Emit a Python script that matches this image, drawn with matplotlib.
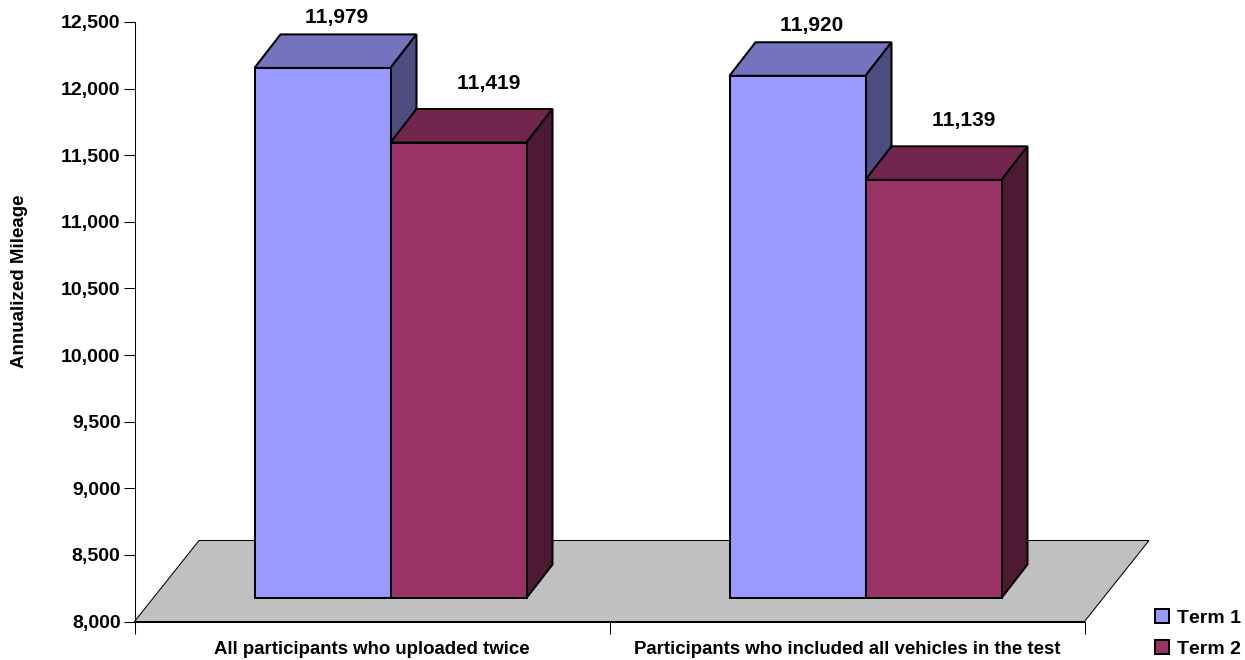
import matplotlib
matplotlib.use("Agg")
import matplotlib.pyplot as plt
from matplotlib.patches import Patch, Polygon
from matplotlib.transforms import Affine2D, IdentityTransform

plt.rcParams['font.family'] = ['Liberation Sans', 'DejaVu Sans']
plt.rcParams['font.weight'] = 'bold'
plt.rcParams['text.kerning_factor'] = 6

categories = ["All participants who uploaded twice",
              "Participants who included all vehicles in the test"]
term1 = [11979, 11920]
term2 = [11419, 11139]
y_ticks = [8000, 8500, 9000, 9500, 10000, 10500, 11000, 11500, 12000, 12500]

W, H = 1245, 660
fig = plt.figure(figsize=(W / 100, H / 100), dpi=100)
ax = fig.add_axes([134.5 / W, 1 - 621.5 / H, 950 / W, 599.5 / H])
ax.set_xlim(0, 2)
ax.set_ylim(8000, 12500)

# axis styling
for side in ['top', 'right']:
    ax.spines[side].set_visible(False)
for side in ['left', 'bottom']:
    ax.spines[side].set_linewidth(0.75)
ax.set_yticks(y_ticks)
ax.set_yticklabels([f"{v:,}" for v in y_ticks], fontsize=14)
ax.tick_params(axis='y', length=8, width=0.75, pad=2)
ax.set_xticks([0, 1, 2])
ax.set_xticklabels([])
ax.tick_params(axis='x', which='major', length=8.5, width=0.75)
ax.set_xticks([0.5, 1.5], minor=True)
ax.set_xticklabels(categories, minor=True, fontsize=13.4)
ax.tick_params(axis='x', which='minor', length=0, pad=14)
ax.set_ylabel("Annualized Mileage", fontsize=13.5, fontweight='bold', labelpad=0)
ax.yaxis.set_label_coords(-106 / 950, 0.568)


def shifted(x, v, dx, dy):
    # data point moved by a pixel offset, returned in display space
    px, py = ax.transData.transform((x, v))
    return px + dx, py + dy


# floor of the chart
floor = [shifted(0, 8000, 0, 0), shifted(2, 8000, 0, 0),
         shifted(2, 8000, 64.5, 81), shifted(0, 8000, 64.5, 81)]
ax.add_patch(Polygon(floor, closed=True, facecolor='#C0C0C0', edgecolor='black',
                     linewidth=0.75, transform=IdentityTransform(), clip_on=False, zorder=1))

OFF_X, OFF_Y = 18.5, 23.5    # bar base relative to the axis plane
DEPTH_X, DEPTH_Y = 26, 33.5  # depth of the 3d boxes
BAR_W = 136 / 475
EDGE = 1.45

plane = ax.transData + Affine2D().translate(OFF_X, OFF_Y)


def draw_box(x0, value, colors, z):
    front, top, side = colors
    x1 = x0 + BAR_W
    ox, oy = OFF_X, OFF_Y
    ddx, ddy = ox + DEPTH_X, oy + DEPTH_Y
    top_pts = [shifted(x0, value, ox, oy), shifted(x1, value, ox, oy),
               shifted(x1, value, ddx, ddy), shifted(x0, value, ddx, ddy)]
    side_pts = [shifted(x1, 8000, ox, oy), shifted(x1, value, ox, oy),
                shifted(x1, value, ddx, ddy), shifted(x1, 8000, ddx, ddy)]
    for pts, col in ((top_pts, top), (side_pts, side)):
        ax.add_patch(Polygon(pts, closed=True, facecolor=col, edgecolor='black', linewidth=EDGE,
                             joinstyle='miter', transform=IdentityTransform(),
                             clip_on=False, zorder=z))
    ax.bar(x0, value - 8000, width=BAR_W, bottom=8000, align='edge', color=front,
           edgecolor='black', linewidth=EDGE, transform=plane, clip_on=False, zorder=z)


colors1 = ('#9999FF', '#7373BF', '#4D4D80')
colors2 = ('#993366', '#73264D', '#4D1A33')
label_off = {0: (14, 41), 1: (30, 50)}  # per-series label offset from the bar top

for i in range(len(categories)):
    xc = i + 0.5
    draw_box(xc - BAR_W, term1[i], colors1, 3 + 2 * i)
    draw_box(xc, term2[i], colors2, 4 + 2 * i)
    for j, (x0, val) in enumerate(((xc - BAR_W, term1[i]), (xc, term2[i]))):
        dx, dy = label_off[j]
        tx, ty = shifted(x0 + BAR_W / 2, val, OFF_X + dx, OFF_Y + dy)
        ax.text(tx, ty, f"{val:,}", transform=IdentityTransform(), ha='center', va='bottom',
                fontsize=15, fontweight='bold', zorder=10, clip_on=False)

handles = [Patch(facecolor=colors1[0], edgecolor='black', linewidth=EDGE, label="Term 1"),
           Patch(facecolor=colors2[0], edgecolor='black', linewidth=EDGE, label="Term 2")]
fig.legend(handles=handles, loc='lower left', bbox_to_anchor=(1151 / W, 1 - 662 / H),
           frameon=False, fontsize=14, handlelength=0.72, handleheight=0.72,
           handletextpad=0.42, labelspacing=0.68, borderpad=0.2, borderaxespad=0)

fig.savefig("out.png", dpi=100)
